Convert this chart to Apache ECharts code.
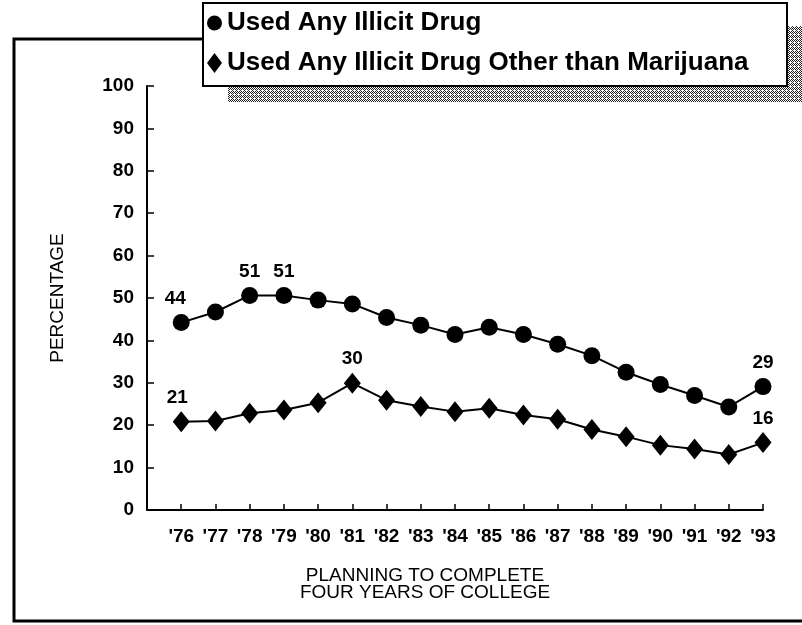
<!DOCTYPE html>
<html>
<head>
<meta charset="utf-8">
<script src="https://cdn.jsdelivr.net/npm/echarts@6/dist/echarts.min.js"></script>
<style>
html,body{margin:0;padding:0;background:#fff;}
#chart{width:802px;height:625px;}
</style>
</head>
<body>
<div id="chart"></div>
<script>
// ---- data ----
var years = [1976,1977,1978,1979,1980,1981,1982,1983,1984,1985,1986,1987,1988,1989,1990,1991,1992,1993];
var tickLabels = ["'76","'77","'78","'79","'80","'81","'82","'83","'84","'85","'86","'87","'88","'89","'90","'91","'92","'93"];
var anyDrug = [44.2,46.7,50.6,50.6,49.5,48.6,45.4,43.6,41.4,43.1,41.4,39.1,36.4,32.5,29.6,27.0,24.3,29.1];
var otherDrug = [20.8,21.0,22.8,23.6,25.3,29.9,25.9,24.4,23.2,24.0,22.4,21.4,19.0,17.3,15.3,14.4,13.1,15.9];
var anyLabeled = [1976,1978,1979,1993];
var otherLabeled = [1976,1981,1993];
var seriesNames = ['Used Any Illicit Drug','Used Any Illicit Drug Other than Marijuana'];
var yTicks = [0,10,20,30,40,50,60,70,80,90,100];

function build(vals, labeled, offX){
  return years.map(function(y,i){
    var d = {value:[y, vals[i]]};
    if (labeled.indexOf(y) >= 0) {
      d.label = {show:true};
      if (i === 0) d.label.offset = [offX, 0];
    }
    return d;
  });
}

// hatch pattern for the legend shadow
var pat = document.createElement('canvas');
pat.width = 4; pat.height = 4;
var pc = pat.getContext('2d');
pc.fillStyle = '#fff'; pc.fillRect(0,0,4,4);
pc.fillStyle = '#222';
[[0,0],[2,0],[1,1],[3,1],[0,2],[1,3],[3,3]].forEach(function(p){ pc.fillRect(p[0],p[1],1,1); });

var chart = echarts.init(document.getElementById('chart'));
var labelFont = "'Liberation Sans', Arial, sans-serif";
chart.setOption({
  animation:false,
  backgroundColor:'#fff',
  grid:{left:147, right:39, top:86, bottom:115},
  xAxis:{
    type:'value', min:1975, max:1993, interval:1,
    axisLine:{show:true, lineStyle:{color:'#000', width:2}},
    axisTick:{show:true, inside:true, length:6, lineStyle:{color:'#000', width:1.5}},
    splitLine:{show:false},
    axisLabel:{
      color:'#000', fontWeight:'bold', fontSize:19, fontFamily:labelFont, margin:17,
      formatter:function(v){ var i = years.indexOf(v); return i >= 0 ? tickLabels[i] : ''; }
    },
    name:'PLANNING TO COMPLETE\nFOUR YEARS OF COLLEGE',
    nameLocation:'middle', nameGap:57,
    nameTextStyle:{color:'#000', fontSize:19, fontFamily:labelFont, lineHeight:17, padding:[0,60,0,0]}
  },
  yAxis:{
    type:'value', min:0, max:100, interval:10,
    axisLine:{show:true, lineStyle:{color:'#000', width:2}},
    axisTick:{show:true, inside:true, length:7, lineStyle:{color:'#000', width:1.5}},
    splitLine:{show:false},
    axisLabel:{color:'#000', fontWeight:'bold', fontSize:19, fontFamily:labelFont, margin:13,
      formatter:function(v){ return yTicks.indexOf(v) >= 0 ? String(v) : ''; }},
    name:'PERCENTAGE', nameLocation:'middle', nameGap:80, nameRotate:90,
    nameTextStyle:{color:'#000', fontSize:19, fontFamily:labelFont}
  },
  legend:{
    orient:'vertical', left:207, top:9, padding:0, itemGap:12,
    itemWidth:15, itemHeight:20,
    data:[{name:seriesNames[0], icon:'circle'},{name:seriesNames[1], icon:'diamond'}],
    textStyle:{color:'#000', fontSize:26, fontWeight:'bold', fontFamily:labelFont, lineHeight:28},
    selectedMode:false
  },
  graphic:[
    {type:'polyline', z:0, shape:{points:[[203,39],[14,39],[14,621],[802,621]]},
      style:{stroke:'#000', lineWidth:3, fill:null}},
    {type:'rect', z:0, shape:{x:228, y:26, width:574, height:76},
      style:{fill:{image:pat, repeat:'repeat'}}},
    {type:'rect', z:1, shape:{x:203, y:3, width:584, height:83},
      style:{fill:'#fff', stroke:'#000', lineWidth:2}}
  ],
  series:[
    {
      name:seriesNames[0], type:'line', data:build(anyDrug, anyLabeled, -6),
      symbol:'circle', symbolSize:17,
      lineStyle:{color:'#000', width:2}, itemStyle:{color:'#000'},
      label:{show:false, position:'top', distance:6, color:'#000', fontWeight:'bold', fontSize:19, fontFamily:labelFont,
        formatter:function(p){ return Math.round(p.value[1]); }}
    },
    {
      name:seriesNames[1], type:'line', data:build(otherDrug, otherLabeled, -4),
      symbol:'diamond', symbolSize:[17,21],
      lineStyle:{color:'#000', width:2}, itemStyle:{color:'#000'},
      label:{show:false, position:'top', distance:4, color:'#000', fontWeight:'bold', fontSize:19, fontFamily:labelFont,
        formatter:function(p){ return Math.round(p.value[1]); }}
    }
  ]
});
</script>
</body>
</html>
